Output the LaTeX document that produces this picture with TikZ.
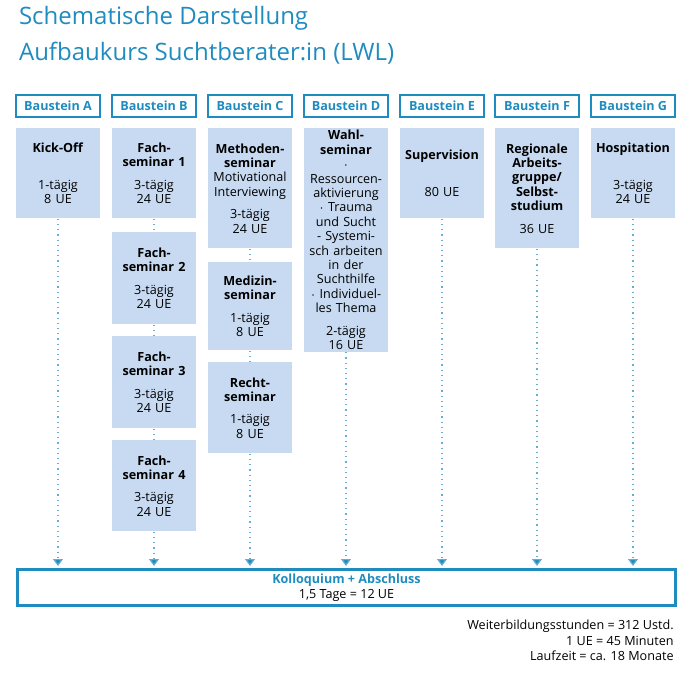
\documentclass[tikz,border=0pt]{standalone}
\usepackage{fontspec}
\setmainfont{Open Sans}
\usetikzlibrary{arrows.meta}
\definecolor{lwlblue}{HTML}{1F8CBF}
\definecolor{lwlfill}{HTML}{C7DAF1}
\tikzset{
  head/.style={draw=lwlblue, line width=0.8pt, text=lwlblue, font=\fontsize{6.3}{7.5}\selectfont\bfseries,
    minimum width=42pt, minimum height=11pt, inner sep=0pt},
  modbox/.style={fill=lwlfill, anchor=north, text width=40pt, align=center, inner sep=1pt,
    font=\fontsize{6.3}{7.2}\selectfont, minimum width=42pt},
  link/.style={draw=lwlblue!70, dotted, line width=0.6pt},
  down/.style={link, -{Triangle[width=5pt,length=3.5pt,fill=lwlblue]}}
}
\begin{document}
\begin{tikzpicture}[x=0.5pt,y=-0.5pt]
\useasboundingbox (0,0) rectangle (690,682);

% title
\node[anchor=west, text=lwlblue, font=\fontsize{12}{14}\selectfont] (title1) at (12,18) {Schematische Darstellung};
\node[anchor=west, text=lwlblue, font=\fontsize{12}{14}\selectfont] (title2) at (12,53) {Aufbaukurs Suchtberater:in (LWL)};

% headers
\node[head] (hA) at (58,106) {Baustein A};
\node[head] (hB) at (154,106) {Baustein B};
\node[head] (hC) at (250,106) {Baustein C};
\node[head] (hD) at (346,106) {Baustein D};
\node[head] (hE) at (442,106) {Baustein E};
\node[head] (hF) at (537,106) {Baustein F};
\node[head] (hG) at (633,106) {Baustein G};

% Baustein A
\node[modbox, minimum height=45pt] (kick) at (58,128) {\textbf{Kick-Off}\\[11pt]1-tägig\\8 UE\\[6pt]};
% Baustein B
\node[modbox, minimum height=45pt] (fach1) at (154,128) {\textbf{Fach-}\\\textbf{seminar 1}\\[4pt]3-tägig\\24 UE\\[4pt]};
\node[modbox, minimum height=46pt] (fach2) at (154,232) {\textbf{Fach-}\\\textbf{seminar 2}\\[4pt]3-tägig\\24 UE};
\node[modbox, minimum height=46pt] (fach3) at (154,336) {\textbf{Fach-}\\\textbf{seminar 3}\\[4pt]3-tägig\\24 UE};
\node[modbox, minimum height=45.5pt] (fach4) at (154,440) {\textbf{Fach-}\\\textbf{seminar 4}\\[4pt]3-tägig\\24 UE};
% Baustein C
\node[modbox, minimum height=60pt] (methode) at (250,128) {\textbf{Methoden-}\\\textbf{seminar}\\Motivational\\Interviewing\\[4pt]3-tägig\\24 UE};
\node[modbox, minimum height=44pt] (medizin) at (250,262) {\textbf{Medizin-}\\\textbf{seminar}\\[4pt]1-tägig\\8 UE};
\node[modbox, minimum height=45.5pt] (recht) at (250,362) {\textbf{Recht-}\\\textbf{seminar}\\[4pt]1-tägig\\8 UE};
% Baustein D
\node[modbox, minimum height=111pt] (wahl) at (346,128) {\textbf{Wahl-}\\\textbf{seminar}\\$\cdot$ Ressourcen-\\aktivierung\\$\cdot$ Trauma\\und Sucht\\- Systemi-\\sch arbeiten\\in der\\Suchthilfe\\$\cdot$ Individuel-\\les Thema\\[4pt]2-tägig\\16 UE};
% Baustein E
\node[modbox, minimum height=45pt] (super) at (442,128) {\textbf{Supervision}\\[11pt]80 UE\\[14pt]};
% Baustein F
\node[modbox, minimum height=60pt] (regio) at (537,128) {\textbf{Regionale}\\\textbf{Arbeits-}\\\textbf{gruppe/}\\\textbf{Selbst-}\\\textbf{studium}\\[4pt]36 UE};
% Baustein G
\node[modbox, minimum height=45pt] (hospi) at (633,128) {\textbf{Hospitation}\\[11pt]3-tägig\\24 UE\\[6pt]};

% final
\node[draw=lwlblue, line width=1.6pt, minimum width=329pt, minimum height=18pt, inner sep=0pt,
  align=center, font=\fontsize{6.3}{7.5}\selectfont] (kollo) at (346.5,587.5)
  {\textcolor{lwlblue}{\textbf{Kolloquium + Abschluss}}\\1,5 Tage = 12 UE};

% arrow ends
\foreach \n/\x in {A/58,B/154,C/250,D/346,E/442,F/537,G/633}
  \coordinate (end\n) at (\x,566);

% connectors
\draw[link] (fach1) -- (fach2);
\draw[link] (fach2) -- (fach3);
\draw[link] (fach3) -- (fach4);
\draw[link] (methode) -- (medizin);
\draw[link] (medizin) -- (recht);
\draw[down] (kick) -- (endA);
\draw[down] (fach4) -- (endB);
\draw[down] (recht) -- (endC);
\draw[down] (wahl) -- (endD);
\draw[down] (super) -- (endE);
\draw[down] (regio) -- (endF);
\draw[down] (hospi) -- (endG);

% notes
\node[anchor=north east, align=right, inner sep=0pt, font=\fontsize{6.3}{7.6}\selectfont] (notes) at (674,620)
  {Weiterbildungsstunden = 312 Ustd.\\1 UE = 45 Minuten\\Laufzeit = ca. 18 Monate};
\end{tikzpicture}
\end{document}
